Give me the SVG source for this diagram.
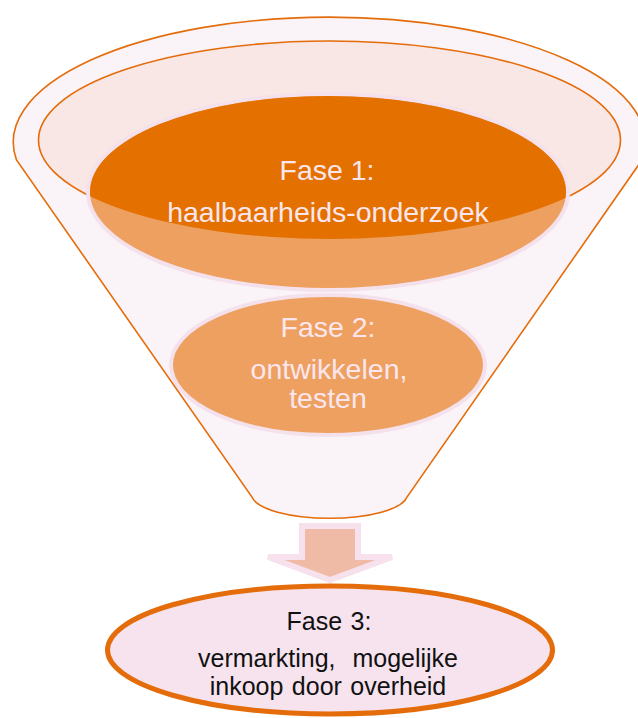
<svg xmlns="http://www.w3.org/2000/svg" width="638" height="718" viewBox="0 0 638 718">
  <style>
    .funnel { fill: #FAF3F8; stroke: #E46C0A; stroke-width: 1.6; }
    .rim { fill: #F8E7E5; stroke: #E46C0A; stroke-width: 1.6; }
    .phase { fill: #EDA060; stroke: #F4E1EC; stroke-width: 4; }
    .dark { fill: #E47000; }
    .lt { font-family: "Liberation Sans", Arial, sans-serif; font-size: 28.5px; fill: #FCE6EE; text-anchor: middle; }
    .dt { font-family: "Liberation Sans", Arial, sans-serif; font-size: 25px; fill: #111111; text-anchor: middle; white-space: pre; word-spacing: 1.5px; }
  </style>
  <defs>
    <clipPath id="rimClip">
      <ellipse cx="329.5" cy="140" rx="291" ry="99"/>
    </clipPath>
  </defs>

  <g id="funnel">
    <path class="funnel" d="M 16.5 160 A 316 125 0 1 1 642 160 L 407 497 A 78 24 0 0 1 252 497 Z"/>
    <ellipse class="rim" cx="329.5" cy="140" rx="291" ry="99"/>
  </g>

  <g id="fase2">
    <ellipse class="phase" cx="328" cy="365" rx="157" ry="70"/>
    <text class="lt" x="328" y="337">Fase 2:</text>
    <text class="lt" x="329" y="379">ontwikkelen,</text>
    <text class="lt" x="328" y="408">testen</text>
  </g>

  <g id="fase1">
    <ellipse class="phase" cx="328" cy="192" rx="240" ry="98"/>
    <ellipse class="dark" cx="328" cy="192" rx="238" ry="96" clip-path="url(#rimClip)"/>
    <text class="lt" x="327" y="180">Fase 1:</text>
    <text class="lt" x="328" y="222">haalbaarheids-onderzoek</text>
  </g>

  <g id="connectors">
    <path d="M 302 526 L 358 526 L 358 557 L 392 557 L 330 580 L 268 557 L 302 557 Z" fill="#EFBBA6" stroke="#F6E1EC" stroke-width="6" stroke-linejoin="miter"/>
  </g>

  <g id="fase3">
    <ellipse cx="330" cy="650" rx="222.5" ry="64" fill="#F6E3EE" stroke="#E46C0A" stroke-width="5"/>
    <text class="dt" x="329" y="630">Fase 3:</text>
    <text class="dt" x="328" y="667">vermarkting,  mogelijke</text>
    <text class="dt" x="328" y="695">inkoop door overheid</text>
  </g>
</svg>
